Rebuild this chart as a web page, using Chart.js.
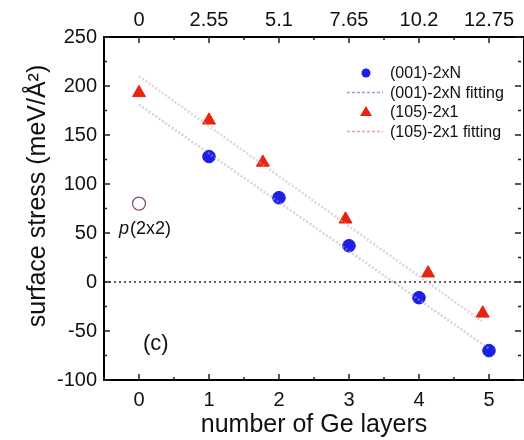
<!DOCTYPE html>
<html>
<head>
<meta charset="utf-8">
<script src="https://cdn.jsdelivr.net/npm/chart.js@4/dist/chart.umd.min.js"></script>
<style>
  html, body { margin: 0; padding: 0; background: #fff; }
  #wrap { width: 524px; height: 440px; }
</style>
</head>
<body>
<div id="wrap"><canvas id="stress-chart"></canvas></div>
<script>
// values
const xTicks = [0, 1, 2, 3, 4, 5];
const topTickLabels = ['0', '2.55', '5.1', '7.65', '10.2', '12.75'];
const yTicks = [-100, -50, 0, 50, 100, 150, 200, 250];

const x001 = [1, 2, 3, 4, 5];
const y001 = [128, 86, 37, -16, -70];

const x105 = [0, 1, 1.77, 2.95, 4.13, 4.91];
const y105 = [193, 165, 122, 64, 9, -32];

const xP2x2 = [0];
const yP2x2 = [80];

const xFit001 = [0, 5];
const yFit001 = [181, -68];
const xFit105 = [0, 4.9];
const yFit105 = [210, -40];

const pts = (xs, ys) => xs.map((x, i) => ({ x: x, y: ys[i] }));
const FONT = 'Liberation Sans, Arial, sans-serif';

const legendItems = [
    { label: '(001)-2xN', type: 'dot', color: '#1d20e4' },
    { label: '(001)-2xN fitting', type: 'line', color: '#9c9ce0' },
    { label: '(105)-2x1', type: 'tri', color: '#e8230f' },
    { label: '(105)-2x1 fitting', type: 'line', color: '#e8a2ab' }
];

const framePlugin = {
    id: 'frame',
    beforeDatasetsDraw(chart) {
        const { ctx, chartArea: a, scales } = chart;
        const y0 = scales.y.getPixelForValue(0);
        ctx.save();
        ctx.strokeStyle = '#3a2a2a';
        ctx.lineWidth = 1.3;
        ctx.setLineDash([2, 3]);
        ctx.beginPath();
        ctx.moveTo(a.left, y0);
        ctx.lineTo(a.right, y0);
        ctx.stroke();
        ctx.restore();
    },
    afterDraw(chart) {
        const { ctx, chartArea: a, scales } = chart;
        ctx.save();
        // frame
        ctx.strokeStyle = '#000';
        ctx.lineWidth = 2;
        ctx.strokeRect(a.left, a.top, a.right - a.left, a.bottom - a.top);

        // inward ticks
        ctx.lineWidth = 1.5;
        ctx.strokeStyle = '#222';
        ctx.beginPath();
        for (let v = -0.5; v <= 5.5; v += 0.5) {
            const px = scales.x.getPixelForValue(v);
            const len = Number.isInteger(v) ? 6 : 3;
            ctx.moveTo(px, a.bottom); ctx.lineTo(px, a.bottom - len);
            ctx.moveTo(px, a.top); ctx.lineTo(px, a.top + len);
        }
        for (let v = -100; v <= 250; v += 25) {
            const py = scales.y.getPixelForValue(v);
            const len = v % 50 === 0 ? 6 : 3;
            ctx.moveTo(a.left, py); ctx.lineTo(a.left + len, py);
            ctx.moveTo(a.right - 3, py); ctx.lineTo(a.right - 3 - len, py);
        }
        ctx.stroke();

        // y title
        ctx.fillStyle = '#111';
        ctx.font = '25px ' + FONT;
        ctx.textAlign = 'center';
        ctx.textBaseline = 'middle';
        ctx.translate(38, 196);
        ctx.rotate(-Math.PI / 2);
        ctx.fillText('surface stress (meV/Å²)', 0, 0);
        ctx.setTransform(1, 0, 0, 1, 0, 0);

        // legend
        ctx.font = '16px ' + FONT;
        ctx.textAlign = 'left';
        legendItems.forEach((it, i) => {
            const ly = 73 + i * 19.5;
            if (it.type === 'dot') {
                ctx.fillStyle = it.color;
                ctx.beginPath(); ctx.arc(366, ly, 4.5, 0, Math.PI * 2); ctx.fill();
            } else if (it.type === 'tri') {
                ctx.fillStyle = it.color;
                ctx.beginPath();
                ctx.moveTo(366, ly - 6); ctx.lineTo(372, ly + 4); ctx.lineTo(360, ly + 4);
                ctx.closePath(); ctx.fill();
            } else {
                ctx.strokeStyle = it.color;
                ctx.lineWidth = 1.5;
                ctx.setLineDash([3, 2]);
                ctx.beginPath(); ctx.moveTo(347, ly); ctx.lineTo(383, ly); ctx.stroke();
                ctx.setLineDash([]);
            }
            ctx.fillStyle = '#111';
            ctx.fillText(it.label, 390, ly + 1);
        });

        // annotations
        ctx.font = 'italic 18px ' + FONT;
        ctx.fillText('p', 119, 229);
        const pw = ctx.measureText('p').width;
        ctx.font = '18px ' + FONT;
        ctx.fillText('(2x2)', 119 + pw + 1, 229);
        ctx.font = '22px ' + FONT;
        ctx.fillText('(c)', 143, 344);
        ctx.restore();
    }
};

const noSidePad = s => { s.paddingLeft = 0; s.paddingRight = 0; };

const ctx = document.getElementById('stress-chart').getContext('2d');
const stressChart = new Chart(ctx, {
    type: 'scatter',
    data: {
        datasets: [
            {
                label: '(001)-2xN fitting',
                data: pts(xFit001, yFit001),
                showLine: true,
                borderColor: 'rgba(170,165,200,0.5)',
                borderWidth: 2.5,
                borderDash: [2, 2],
                pointRadius: 0
            },
            {
                label: '(105)-2x1 fitting',
                data: pts(xFit105, yFit105),
                showLine: true,
                borderColor: 'rgba(200,170,180,0.5)',
                borderWidth: 2.5,
                borderDash: [2, 2],
                pointRadius: 0
            },
            {
                label: '(001)-2xN',
                data: pts(x001, y001),
                backgroundColor: '#1d20e4',
                borderColor: '#1d20e4',
                pointRadius: 6.3
            },
            {
                label: '(105)-2x1',
                data: pts(x105, y105),
                pointStyle: 'triangle',
                backgroundColor: '#e8230f',
                borderColor: '#e8230f',
                pointRadius: 7.5
            },
            {
                label: 'p(2x2)',
                data: pts(xP2x2, yP2x2),
                backgroundColor: 'rgba(0,0,0,0)',
                borderColor: '#8b4f80',
                borderWidth: 1.3,
                pointRadius: 6.5
            }
        ]
    },
    options: {
        responsive: true,
        maintainAspectRatio: false,
        animation: false,
        layout: { padding: 0, autoPadding: false },
        plugins: {
            legend: { display: false },
            tooltip: { enabled: false }
        },
        scales: {
            x: {
                type: 'linear',
                position: 'bottom',
                min: -0.5,
                max: 5.5,
                afterBuildTicks: s => { s.ticks = xTicks.map(v => ({ value: v })); },
                afterFit: s => { s.height = 60; noSidePad(s); },
                grid: { display: false, drawTicks: false },
                border: { display: false },
                ticks: {
                    padding: 8,
                    maxRotation: 0,
                    autoSkip: false,
                    color: '#111',
                    font: { family: FONT, size: 20 }
                },
                title: {
                    display: true,
                    text: 'number of Ge layers',
                    color: '#111',
                    font: { family: FONT, size: 25 },
                    padding: { top: 0, bottom: 0 }
                }
            },
            x2: {
                type: 'linear',
                position: 'top',
                min: -0.5,
                max: 5.5,
                afterBuildTicks: s => { s.ticks = xTicks.map(v => ({ value: v })); },
                afterFit: s => { s.height = 37; noSidePad(s); },
                grid: { display: false, drawTicks: false },
                border: { display: false },
                ticks: {
                    padding: 5,
                    maxRotation: 0,
                    autoSkip: false,
                    color: '#111',
                    font: { family: FONT, size: 20 },
                    callback: v => topTickLabels[xTicks.indexOf(v)]
                }
            },
            y: {
                type: 'linear',
                min: -100,
                max: 250,
                afterBuildTicks: s => { s.ticks = yTicks.map(v => ({ value: v })); },
                afterFit: s => { s.width = 104; },
                grid: { display: false, drawTicks: false },
                border: { display: false },
                ticks: {
                    padding: 7,
                    color: '#111',
                    font: { family: FONT, size: 20 }
                }
            }
        }
    },
    plugins: [framePlugin]
});
</script>
</body>
</html>
